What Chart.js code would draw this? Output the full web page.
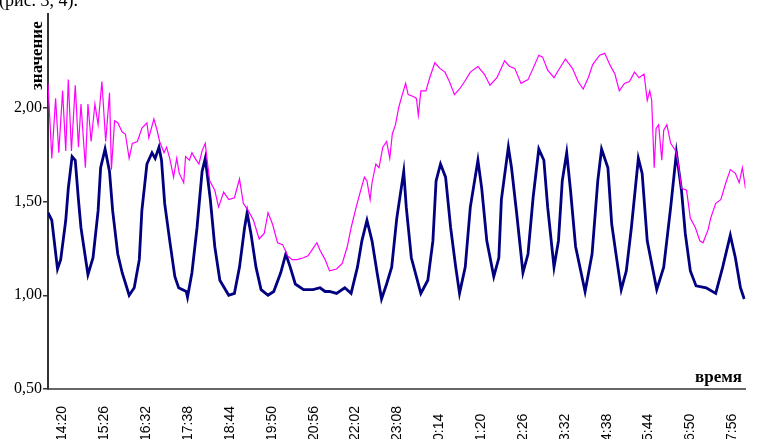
<!DOCTYPE html>
<html>
<head>
<meta charset="utf-8">
<script src="https://cdn.jsdelivr.net/npm/chart.js@4"></script>
<style>
  html, body { margin: 0; padding: 0; background: #fff; overflow: hidden; }
  canvas { display: block; }
</style>
</head>
<body>
<canvas id="chart" width="758" height="439"></canvas>
<script>
// time axis labels (every 66 min)
const tickLabels = ['14:20', '15:26', '16:32', '17:38', '18:44', '19:50', '20:56', '22:02', '23:08',
    '0:14', '1:20', '2:26', '3:32', '4:38', '5:44', '6:50', '7:56'];

// minutes after 14:20
const navyT = [-23, -17, -8, -3, 5, 9, 15, 20, 25, 29, 40, 48, 56, 60, 67, 74, 79, 87, 94, 105,
    113, 121, 125, 133, 141, 146, 152, 156, 161, 169, 177, 183, 195, 197, 204, 212, 220, 225, 233, 240,
    248, 262, 271, 279, 287, 291, 297, 305, 313, 324, 333, 344, 352, 359, 367, 380, 395, 406, 414, 421,
    432, 445, 455, 465, 472, 480, 488, 496, 503, 511, 519, 527, 538, 542, 550, 565, 576, 584, 589, 596,
    604, 612, 620, 626, 635, 643, 655, 661, 669, 680, 688, 692, 703, 708, 716, 726, 734, 742, 751, 759,
    765, 775, 782, 788, 795, 801, 809, 824, 835, 844, 850, 860, 866, 874, 881, 889, 897, 908, 914, 922,
    937, 948, 959, 968, 976, 982, 990, 999, 1015, 1030, 1041, 1053, 1061, 1069, 1075];
const navyV = [1.44, 1.40, 1.14, 1.19, 1.40, 1.57, 1.74, 1.72, 1.51, 1.36, 1.11, 1.20, 1.45, 1.68, 1.78, 1.66, 1.45, 1.22, 1.12, 1.00,
    1.04, 1.19, 1.45, 1.70, 1.76, 1.73, 1.79, 1.72, 1.49, 1.29, 1.10, 1.04, 1.02, 0.99, 1.12, 1.36, 1.66, 1.73, 1.51, 1.26,
    1.08, 1.00, 1.01, 1.15, 1.36, 1.44, 1.33, 1.15, 1.03, 1.00, 1.02, 1.12, 1.22, 1.15, 1.06, 1.03, 1.03, 1.04, 1.02, 1.02,
    1.01, 1.04, 1.01, 1.15, 1.29, 1.40, 1.29, 1.12, 0.98, 1.06, 1.15, 1.41, 1.66, 1.47, 1.20, 1.01, 1.08, 1.29, 1.61, 1.70,
    1.63, 1.36, 1.15, 1.01, 1.15, 1.47, 1.72, 1.57, 1.29, 1.10, 1.20, 1.51, 1.79, 1.68, 1.44, 1.12, 1.22, 1.52, 1.78, 1.72,
    1.47, 1.15, 1.29, 1.61, 1.76, 1.56, 1.26, 1.02, 1.22, 1.61, 1.78, 1.68, 1.38, 1.19, 1.03, 1.13, 1.36, 1.73, 1.65, 1.29,
    1.03, 1.15, 1.47, 1.76, 1.56, 1.33, 1.13, 1.05, 1.04, 1.01, 1.15, 1.32, 1.20, 1.04, 0.98];

const pinkT = [-23, -17, -11, -6, 0, 5, 9, 14, 20, 25, 29, 36, 40, 45, 51, 56, 62, 68, 74, 77,
    82, 87, 94, 99, 105, 110, 118, 125, 133, 136, 144, 149, 153, 160, 164, 169, 175, 180, 184, 191,
    194, 200, 204, 209, 215, 220, 225, 228, 232, 240, 246, 254, 262, 271, 279, 285, 293, 301, 310, 318,
    324, 331, 339, 347, 355, 362, 370, 380, 387, 395, 401, 406, 414, 421, 432, 441, 449, 455, 463, 471,
    476, 480, 485, 488, 494, 499, 505, 511, 516, 520, 525, 530, 534, 541, 545, 553, 558, 561, 565, 573,
    579, 587, 595, 603, 610, 618, 626, 634, 643, 655, 665, 674, 685, 697, 705, 713, 723, 734, 742, 751,
    757, 765, 775, 782, 793, 804, 813, 821, 829, 836, 847, 855, 863, 871, 878, 886, 894, 902, 909, 917,
    922, 926, 929, 933, 936, 940, 945, 948, 953, 959, 967, 971, 976, 984, 990, 998, 1005, 1010, 1018, 1022,
    1030, 1038, 1046, 1053, 1061, 1067, 1072, 1077];
const pinkV = [2.13, 1.73, 2.05, 1.76, 2.09, 1.77, 2.15, 1.77, 2.12, 1.79, 2.02, 1.68, 2.02, 1.82, 2.02, 1.91, 2.14, 1.82, 2.08, 1.67,
    1.93, 1.92, 1.87, 1.86, 1.73, 1.81, 1.82, 1.89, 1.92, 1.84, 1.94, 1.88, 1.82, 1.76, 1.79, 1.73, 1.63, 1.73, 1.65, 1.60,
    1.74, 1.72, 1.76, 1.73, 1.70, 1.77, 1.81, 1.72, 1.61, 1.56, 1.47, 1.55, 1.51, 1.52, 1.62, 1.49, 1.45, 1.40, 1.30, 1.33,
    1.44, 1.38, 1.28, 1.27, 1.21, 1.19, 1.19, 1.20, 1.21, 1.25, 1.28, 1.24, 1.19, 1.13, 1.14, 1.17, 1.26, 1.36, 1.47, 1.57,
    1.63, 1.61, 1.51, 1.60, 1.70, 1.68, 1.79, 1.82, 1.73, 1.86, 1.91, 2.00, 2.05, 2.13, 2.07, 2.06, 2.05, 1.96, 2.09, 2.09,
    2.16, 2.24, 2.21, 2.19, 2.14, 2.07, 2.10, 2.14, 2.19, 2.22, 2.18, 2.12, 2.16, 2.25, 2.22, 2.21, 2.13, 2.15, 2.21, 2.28,
    2.27, 2.20, 2.16, 2.20, 2.26, 2.21, 2.14, 2.10, 2.16, 2.23, 2.28, 2.29, 2.23, 2.18, 2.09, 2.13, 2.14, 2.19, 2.16, 2.18,
    2.04, 2.09, 2.04, 1.68, 1.89, 1.91, 1.72, 1.88, 1.91, 1.81, 1.77, 1.70, 1.57, 1.56, 1.41, 1.36, 1.29, 1.28, 1.35, 1.41,
    1.49, 1.51, 1.60, 1.67, 1.65, 1.60, 1.68, 1.57];

// tick positions come from the clock labels
function toMinutes(s) {
    const p = s.split(':');
    return ((+p[0] * 60 + +p[1]) - 860 + 1440) % 1440;
}
const tickMinutes = tickLabels.map(toMinutes);

const serif = "'Liberation Serif', 'Times New Roman', serif";

// extra texts: axis names and the cut caption above
const textsPlugin = {
    id: 'texts',
    afterDraw(chart) {
        const ctx = chart.ctx;
        ctx.save();
        ctx.fillStyle = '#000';
        ctx.font = '18px ' + serif;
        ctx.textAlign = 'left';
        ctx.textBaseline = 'alphabetic';
        ctx.fillText('(рис. 3, 4).', -1, 6);

        ctx.font = 'bold 17px ' + serif;
        ctx.fillText('время', 695, 382);

        ctx.translate(42, 90);
        ctx.rotate(-Math.PI / 2);
        ctx.font = 'bold 17px ' + serif;
        ctx.fillText('значение', 0, 0);
        ctx.restore();
    }
};

const ctx = document.getElementById('chart').getContext('2d');
const chart = new Chart(ctx, {
    type: 'line',
    data: {
        datasets: [{
            label: 'pink',
            data: pinkT.map((t, i) => ({ x: t, y: pinkV[i] })),
            borderColor: '#ff00ff',
            borderWidth: 1.2,
            pointRadius: 0,
            tension: 0
        }, {
            label: 'navy',
            data: navyT.map((t, i) => ({ x: t, y: navyV[i] })),
            borderColor: '#000080',
            borderWidth: 2.8,
            pointRadius: 0,
            tension: 0
        }]
    },
    options: {
        responsive: false,
        animation: false,
        layout: { padding: { top: 14, left: 0, right: 0, bottom: 0 } },
        plugins: { legend: { display: false }, tooltip: { enabled: false } },
        scales: {
            x: {
                type: 'linear',
                min: -23,
                max: 1077,
                afterBuildTicks: s => { s.ticks = tickMinutes.map(v => ({ value: v })); },
                afterFit: s => { s.height = 50; },
                grid: { display: false },
                border: { display: true, color: '#666', width: 2 },
                ticks: {
                    autoSkip: false,
                    minRotation: 90,
                    maxRotation: 90,
                    padding: 9,
                    color: '#000',
                    font: { family: "'Liberation Sans', Arial, sans-serif", size: 14 },
                    // short labels keep the same start point as long ones
                    callback: v => {
                        const i = tickMinutes.indexOf(v);
                        if (i < 0) return null;
                        const s = tickLabels[i];
                        return s.length < 5 ? s + '\u2007' : s;
                    }
                }
            },
            y: {
                min: 0.5,
                max: 2.5,
                afterFit: s => { s.width = 48; },
                grid: { display: true, drawOnChartArea: false, drawTicks: true, tickLength: 5, color: '#333', lineWidth: 1.5 },
                border: { display: true, color: '#333', width: 2 },
                ticks: {
                    stepSize: 0.5,
                    padding: 1,
                    color: '#000',
                    font: { family: serif, size: 16 },
                    callback: v => v >= 2.5 ? null : v.toFixed(2).replace('.', ',')
                }
            }
        }
    },
    plugins: [textsPlugin]
});
</script>
</body>
</html>
